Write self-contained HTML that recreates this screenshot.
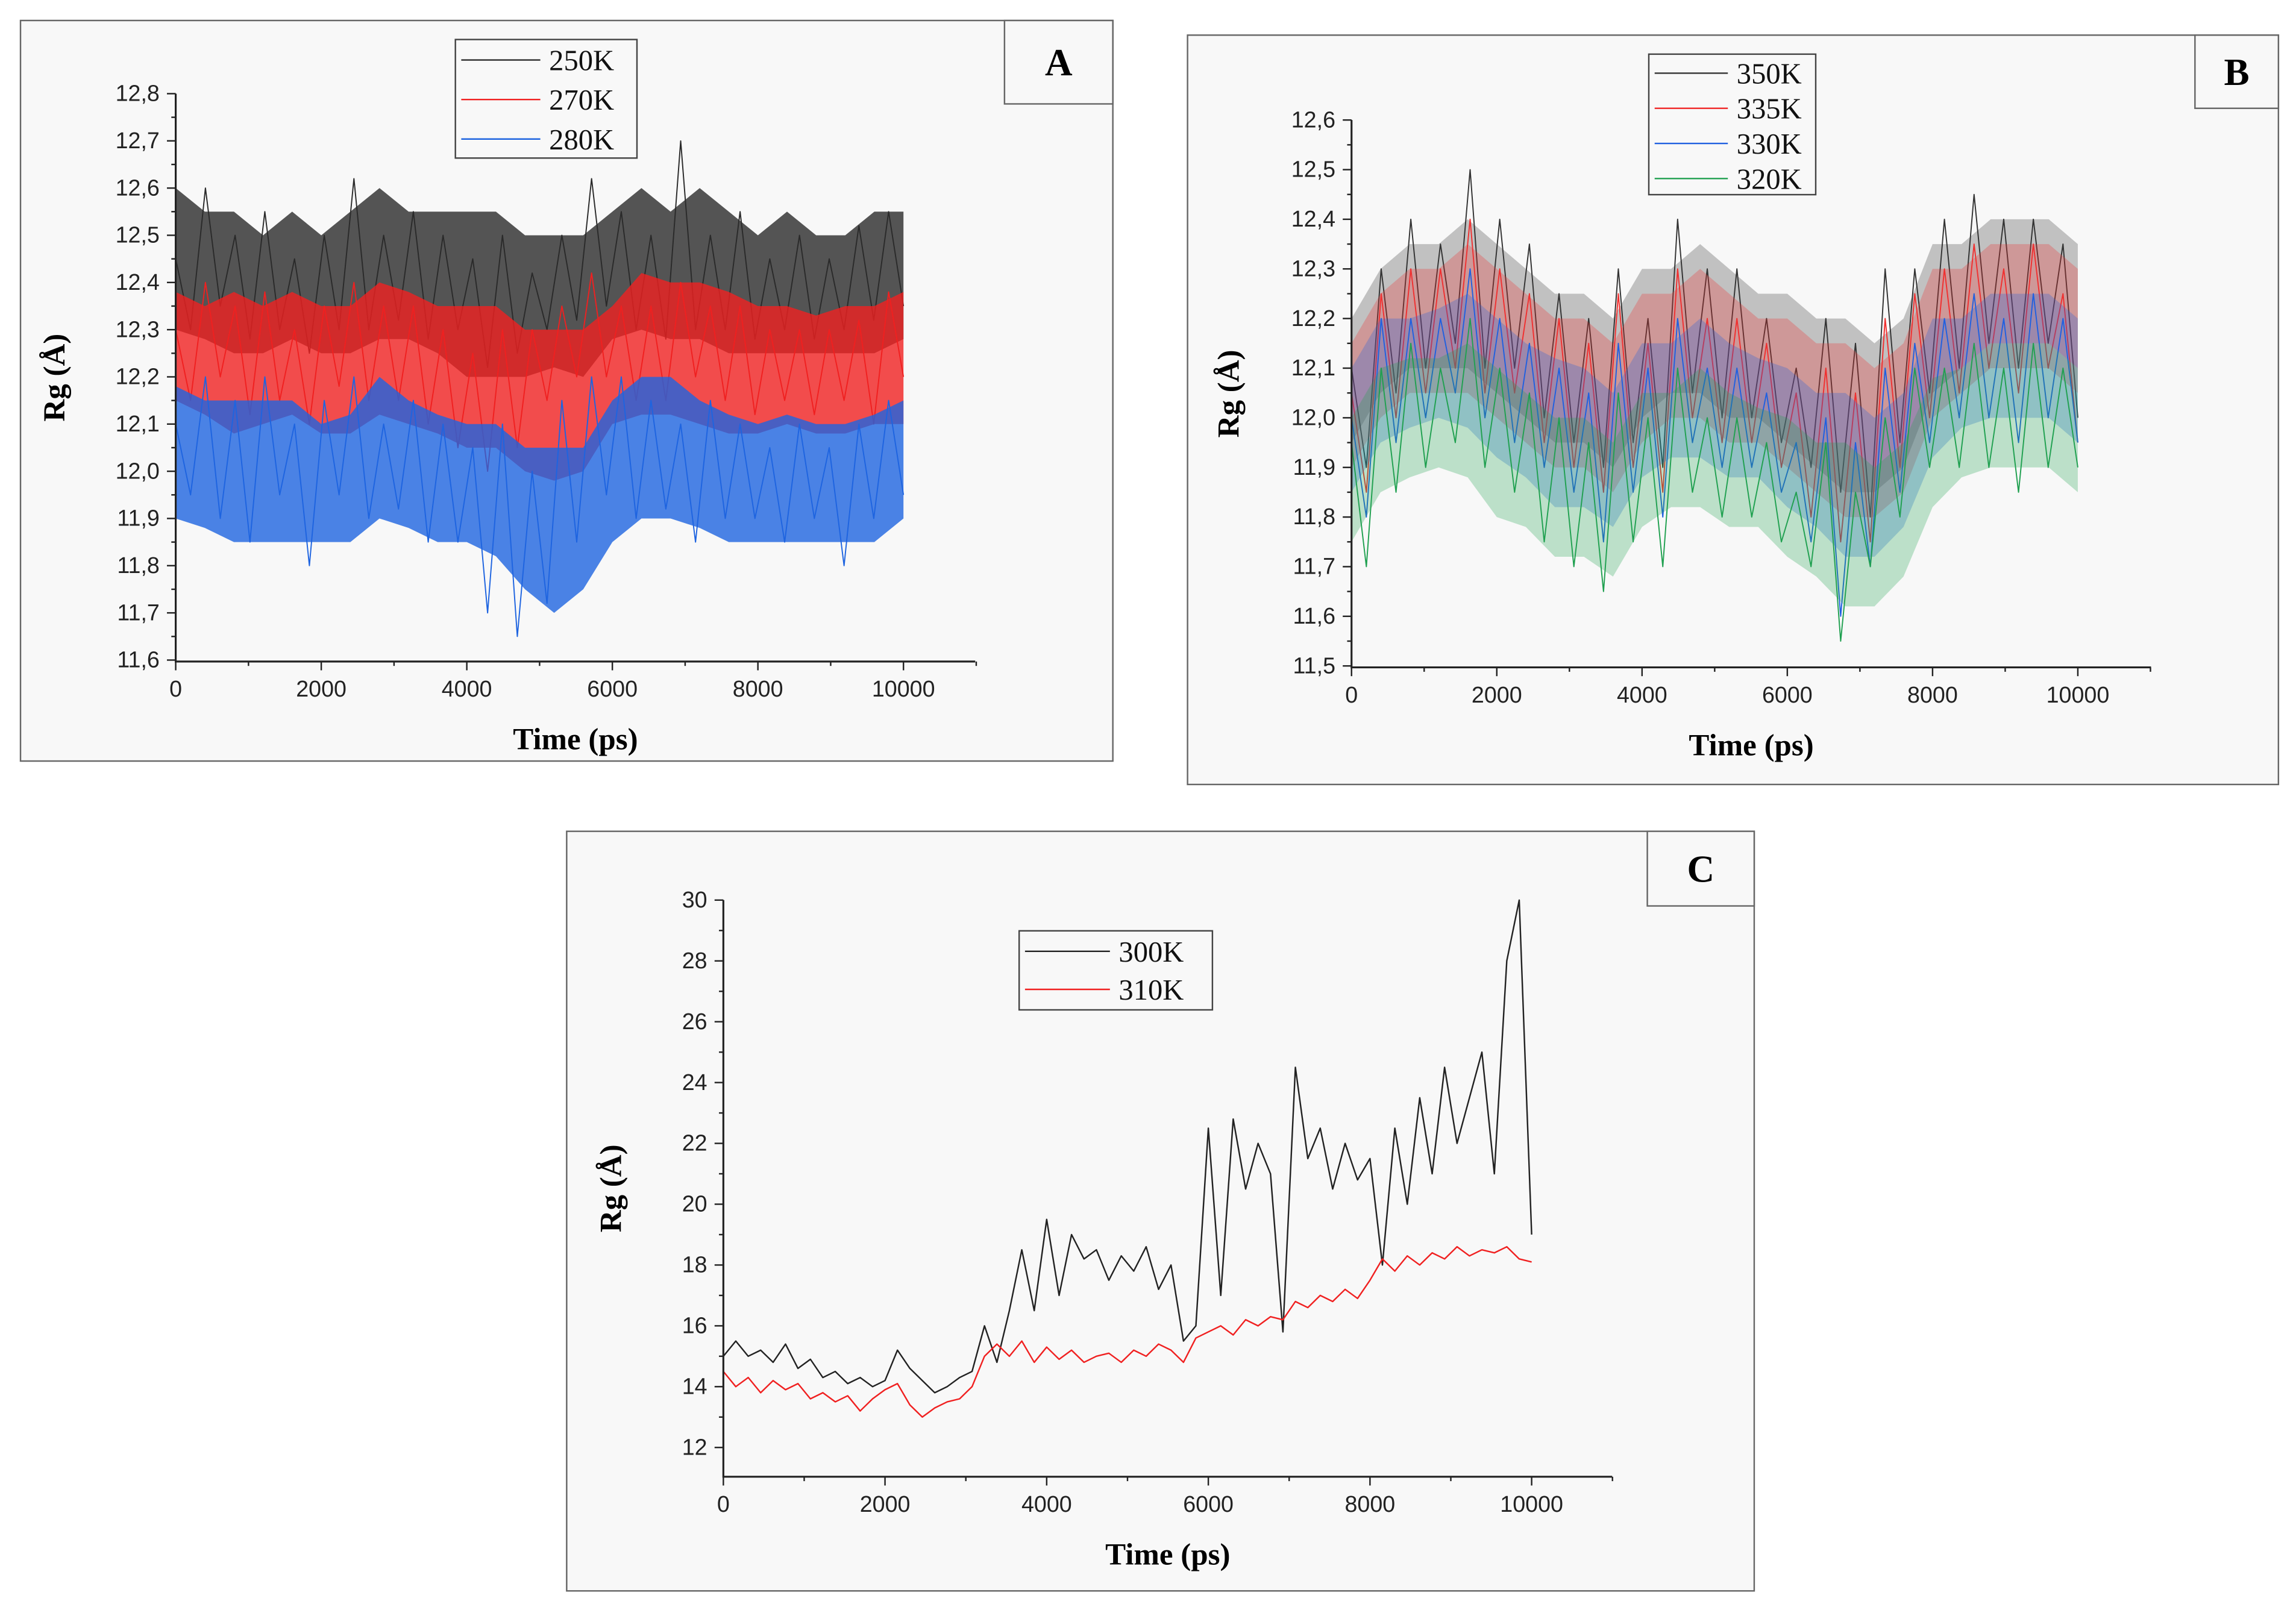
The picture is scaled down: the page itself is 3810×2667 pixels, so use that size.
<!DOCTYPE html>
<html><head><meta charset="utf-8"><style>
html,body{margin:0;padding:0;background:#fff;}
svg{display:block;}
text{font-family:"Liberation Serif",serif;}
.tk{font-family:"Liberation Sans",sans-serif;font-size:15.5px;fill:#222;}
</style></head><body>
<svg id="fig" width="3810" height="2667" viewBox="0 0 1568 1098" preserveAspectRatio="none" xmlns="http://www.w3.org/2000/svg"></svg>
<script>
const timeMax = 10000;
// Panel A spike traces (Rg in Å)
const a250 = [12.45,12.3,12.6,12.35,12.5,12.28,12.55,12.3,12.45,12.25,12.5,12.3,12.62,12.3,12.5,12.32,12.55,12.28,12.5,12.3,12.45,12.22,12.5,12.25,12.42,12.3,12.5,12.32,12.62,12.35,12.55,12.3,12.5,12.28,12.7,12.3,12.5,12.3,12.55,12.28,12.45,12.3,12.5,12.28,12.45,12.3,12.52,12.32,12.55,12.35];
const a270 = [12.3,12.15,12.4,12.2,12.35,12.12,12.38,12.15,12.3,12.1,12.35,12.18,12.4,12.15,12.35,12.15,12.35,12.1,12.3,12.05,12.25,12.0,12.3,12.05,12.3,12.15,12.35,12.2,12.42,12.2,12.35,12.15,12.35,12.15,12.4,12.2,12.35,12.15,12.35,12.12,12.3,12.15,12.3,12.12,12.3,12.15,12.32,12.1,12.38,12.2];
const a280 = [12.1,11.95,12.2,11.9,12.15,11.85,12.2,11.95,12.1,11.8,12.15,11.95,12.2,11.9,12.1,11.92,12.15,11.85,12.1,11.85,12.05,11.7,12.1,11.65,12.0,11.72,12.15,11.85,12.2,11.95,12.2,11.9,12.15,11.92,12.1,11.85,12.15,11.9,12.1,11.9,12.05,11.85,12.1,11.9,12.05,11.8,12.1,11.9,12.15,11.95];
// Panel A envelopes (dense noise band)
const a250Hi = [12.6,12.55,12.55,12.5,12.55,12.5,12.55,12.6,12.55,12.55,12.55,12.55,12.5,12.5,12.5,12.55,12.6,12.55,12.6,12.55,12.5,12.55,12.5,12.5,12.55,12.55];
const a250Lo = [12.3,12.28,12.25,12.25,12.28,12.25,12.25,12.28,12.28,12.25,12.2,12.2,12.2,12.22,12.2,12.28,12.3,12.28,12.28,12.25,12.25,12.25,12.25,12.25,12.25,12.28];
const a270Hi = [12.38,12.35,12.38,12.35,12.38,12.35,12.35,12.4,12.38,12.35,12.35,12.35,12.3,12.3,12.3,12.35,12.42,12.4,12.4,12.38,12.35,12.35,12.33,12.35,12.35,12.38];
const a270Lo = [12.15,12.12,12.08,12.1,12.12,12.08,12.08,12.12,12.1,12.08,12.05,12.05,12.0,11.98,12.0,12.1,12.12,12.12,12.1,12.08,12.08,12.1,12.08,12.08,12.1,12.1];
const a280Hi = [12.18,12.15,12.15,12.15,12.15,12.1,12.12,12.2,12.15,12.12,12.1,12.1,12.05,12.05,12.05,12.15,12.2,12.2,12.15,12.12,12.1,12.12,12.1,12.1,12.12,12.15];
const a280Lo = [11.9,11.88,11.85,11.85,11.85,11.85,11.85,11.9,11.88,11.85,11.85,11.82,11.75,11.7,11.75,11.85,11.9,11.9,11.88,11.85,11.85,11.85,11.85,11.85,11.85,11.9];
// Panel B spike traces
const b350 = [12.1,11.9,12.3,12.05,12.4,12.1,12.35,12.15,12.5,12.1,12.4,12.1,12.35,12.0,12.25,11.95,12.2,11.9,12.3,11.95,12.2,11.9,12.4,12.05,12.3,12.0,12.3,12.0,12.2,11.95,12.1,11.9,12.2,11.85,12.15,11.8,12.3,11.95,12.3,12.05,12.4,12.1,12.45,12.15,12.4,12.1,12.4,12.15,12.35,12.0];
const b335 = [12.05,11.85,12.25,12.0,12.3,12.05,12.3,12.1,12.4,12.05,12.3,12.05,12.25,11.95,12.2,11.9,12.15,11.85,12.25,11.9,12.15,11.85,12.3,12.0,12.2,11.95,12.2,11.95,12.15,11.9,12.05,11.8,12.1,11.75,12.05,11.75,12.2,11.9,12.25,12.0,12.3,12.05,12.35,12.1,12.3,12.05,12.35,12.1,12.25,11.95];
const b330 = [12.0,11.8,12.2,11.95,12.2,12.0,12.2,12.05,12.3,12.0,12.2,11.95,12.15,11.9,12.1,11.85,12.05,11.75,12.15,11.85,12.1,11.8,12.2,11.95,12.1,11.9,12.1,11.9,12.05,11.85,11.95,11.75,12.0,11.6,11.95,11.7,12.1,11.85,12.15,11.95,12.2,12.0,12.25,12.0,12.2,11.95,12.25,12.0,12.2,11.95];
const b320 = [11.95,11.7,12.1,11.85,12.15,11.9,12.1,11.95,12.2,11.9,12.1,11.85,12.05,11.75,12.0,11.7,11.95,11.65,12.05,11.75,12.0,11.7,12.1,11.85,12.0,11.8,12.0,11.8,11.95,11.75,11.85,11.7,11.95,11.55,11.85,11.7,12.0,11.8,12.1,11.9,12.1,11.9,12.15,11.9,12.1,11.85,12.15,11.9,12.1,11.9];
// Panel B envelopes
const b350Hi = [12.2,12.3,12.35,12.35,12.4,12.35,12.3,12.25,12.25,12.2,12.3,12.3,12.35,12.3,12.25,12.25,12.2,12.2,12.15,12.2,12.35,12.35,12.4,12.4,12.4,12.35];
const b350Lo = [11.95,12.05,12.1,12.1,12.1,12.05,12.0,11.95,11.95,11.9,12.0,12.05,12.05,12.0,12.0,11.95,11.9,11.85,11.85,11.9,12.05,12.1,12.15,12.15,12.15,12.1];
const b335Hi = [12.15,12.25,12.3,12.3,12.35,12.3,12.25,12.2,12.2,12.15,12.25,12.25,12.3,12.25,12.2,12.2,12.15,12.15,12.1,12.15,12.3,12.3,12.35,12.35,12.35,12.3];
const b335Lo = [11.9,12.0,12.05,12.05,12.05,12.0,11.95,11.9,11.9,11.85,11.95,12.0,12.0,11.95,11.95,11.9,11.85,11.8,11.8,11.85,12.0,12.05,12.1,12.1,12.1,12.05];
const b330Hi = [12.1,12.2,12.2,12.22,12.25,12.2,12.15,12.12,12.1,12.05,12.15,12.15,12.2,12.15,12.12,12.1,12.05,12.05,12.0,12.05,12.2,12.2,12.25,12.25,12.25,12.2];
const b330Lo = [11.85,11.95,11.98,12.0,11.98,11.92,11.88,11.82,11.82,11.78,11.88,11.92,11.92,11.88,11.88,11.82,11.78,11.72,11.72,11.78,11.92,11.98,12.0,12.0,12.0,11.95];
const b320Hi = [12.0,12.1,12.12,12.12,12.15,12.1,12.05,12.0,12.0,11.95,12.05,12.05,12.1,12.05,12.02,12.0,11.95,11.95,11.9,11.95,12.08,12.1,12.15,12.15,12.15,12.1];
const b320Lo = [11.75,11.85,11.88,11.9,11.88,11.8,11.78,11.72,11.72,11.68,11.78,11.82,11.82,11.78,11.78,11.72,11.68,11.62,11.62,11.68,11.82,11.88,11.9,11.9,11.9,11.85];
// Panel C data
const c300 = [15.0,15.5,15.0,15.2,14.8,15.4,14.6,14.9,14.3,14.5,14.1,14.3,14.0,14.2,15.2,14.6,14.2,13.8,14.0,14.3,14.5,16.0,14.8,16.5,18.5,16.5,19.5,17.0,19.0,18.2,18.5,17.5,18.3,17.8,18.6,17.2,18.0,15.5,16.0,22.5,17.0,22.8,20.5,22.0,21.0,15.8,24.5,21.5,22.5,20.5,22.0,20.8,21.5,18.0,22.5,20.0,23.5,21.0,24.5,22.0,23.5,25.0,21.0,28.0,30.0,19.0];
const c310 = [14.5,14.0,14.3,13.8,14.2,13.9,14.1,13.6,13.8,13.5,13.7,13.2,13.6,13.9,14.1,13.4,13.0,13.3,13.5,13.6,14.0,15.0,15.4,15.0,15.5,14.8,15.3,14.9,15.2,14.8,15.0,15.1,14.8,15.2,15.0,15.4,15.2,14.8,15.6,15.8,16.0,15.7,16.2,16.0,16.3,16.2,16.8,16.6,17.0,16.8,17.2,16.9,17.5,18.2,17.8,18.3,18.0,18.4,18.2,18.6,18.3,18.5,18.4,18.6,18.2,18.1];
// Ticks
const xTicks = [0,2000,4000,6000,8000,10000];
const aYTicks = [11.6,11.7,11.8,11.9,12.0,12.1,12.2,12.3,12.4,12.5,12.6,12.7,12.8];
const bYTicks = [11.5,11.6,11.7,11.8,11.9,12.0,12.1,12.2,12.3,12.4,12.5,12.6];
const cYTicks = [12,14,16,18,20,22,24,26,28,30];

const NS = "http://www.w3.org/2000/svg";
const svg = document.getElementById('fig');
function mk(tag, attrs, parent){const e=document.createElementNS(NS,tag);for(const k in attrs)e.setAttribute(k,attrs[k]);(parent||svg).appendChild(e);return e;}

function panel(p){
  const g = mk('g',{});
  
  
  mk('rect',{x:p.box[0],y:p.box[1],width:p.box[2]-p.box[0],height:p.box[3]-p.box[1],fill:'#f8f8f8',stroke:'#666','stroke-width':1},g);
  const sx = v => p.x0 + (v/timeMax)*(p.x1-p.x0);
  const sy = v => p.yB + (v-p.ymin)/(p.ymax-p.ymin)*(p.yT-p.yB);
  p.series.forEach(s=>{
    if(s.hi){
      const n = s.hi.length;
      const up = s.hi.map((v,i)=>sx(i*timeMax/(n-1)).toFixed(2)+','+sy(v).toFixed(2));
      const dn = s.lo.map((v,i)=>sx(i*timeMax/(n-1)).toFixed(2)+','+sy(v).toFixed(2)).reverse();
      const b = mk('polygon',{points:up.concat(dn).join(' '),fill:s.color,'fill-opacity':s.op||0.8,stroke:'none'},g);
      
      
    }
    const pts = s.data.map((v,i)=>sx(i*timeMax/(s.data.length-1)).toFixed(2)+','+sy(v).toFixed(2)).join(' ');
    const l = mk('polyline',{points:pts,fill:'none',stroke:s.color,'stroke-width':s.w||0.8,'stroke-linejoin':'round'},g);
    
    
  });
  const ax = mk('path',{d:`M${p.x0},${p.yT} V${p.axB} H${p.axR}`,fill:'none',stroke:'#222','stroke-width':1.3},g);
  
  
  xTicks.forEach(t=>{
    mk('line',{x1:sx(t),x2:sx(t),y1:p.axB,y2:p.axB+6,stroke:'#222','stroke-width':1},g);
    mk('line',{x1:sx(t+1000),x2:sx(t+1000),y1:p.axB,y2:p.axB+3,stroke:'#222','stroke-width':1},g);
    const tx = mk('text',{x:sx(t),y:p.axB+24,'text-anchor':'middle',class:'tk'},g);
    tx.textContent = t;
    
    
  });
  p.yTicks.forEach((t,i)=>{
    mk('line',{x1:p.x0-6,x2:p.x0,y1:sy(t),y2:sy(t),stroke:'#222','stroke-width':1},g);
    if(i<p.yTicks.length-1){const m=(t+p.yTicks[i+1])/2;mk('line',{x1:p.x0-3,x2:p.x0,y1:sy(m),y2:sy(m),stroke:'#222','stroke-width':1},g);}
    const ty = mk('text',{x:p.x0-11,y:sy(t)+5,'text-anchor':'end',class:'tk'},g);
    ty.textContent = p.dec ? t.toFixed(1).replace('.',',') : t;
    
    
  });
  const xt = mk('text',{x:(p.x0+p.axR)/2,y:p.axB+60,'text-anchor':'middle','font-size':21,'font-weight':'bold'},g);
  xt.textContent = 'Time (ps)';
  
  
  const yt = mk('text',{x:0,y:0,'text-anchor':'middle','font-size':21,'font-weight':'bold',transform:`translate(${p.ytx},${(p.yT+p.axB)/2}) rotate(-90)`},g);
  yt.textContent = 'Rg (Å)';
  
  
  const L = p.leg;
  const lg = mk('g',{},g);
  
  
  mk('rect',{x:L.x,y:L.y,width:L.w,height:L.h,fill:'#f8f8f8',stroke:'#444','stroke-width':1},lg);
  p.series.forEach((s,i)=>{
    const yy = L.y + L.first + i*L.step;
    mk('line',{x1:L.x+4,x2:L.x+L.lw,y1:yy,y2:yy,stroke:s.color,'stroke-width':1},lg);
    const t = mk('text',{x:L.x+L.lw+6,y:yy+7,'font-size':20,fill:'#111'},lg);
    t.textContent = s.label;
    
    
  });
  const lb = p.lbox;
  mk('rect',{x:lb[0],y:lb[1],width:lb[2]-lb[0],height:lb[3]-lb[1],fill:'#f8f8f8',stroke:'#666','stroke-width':1},g);
  const lt = mk('text',{x:(lb[0]+lb[2])/2,y:(lb[1]+lb[3])/2+9,'text-anchor':'middle','font-size':26,'font-weight':'bold'},g);
  lt.textContent = p.id;
  
  
}

panel({id:'A',box:[14,14,760,520],lbox:[686,14,760,71],x0:120,x1:617,axR:666,yT:64,yB:451,axB:452,ymin:11.6,ymax:12.8,yTicks:aYTicks,dec:true,ytx:44,
  series:[{label:'250K',color:'#2a2a2a',data:a250,hi:a250Hi,lo:a250Lo},{label:'270K',color:'#f02020',data:a270,hi:a270Hi,lo:a270Lo},{label:'280K',color:'#1e64e0',data:a280,hi:a280Hi,lo:a280Lo}],
  leg:{x:311,y:27,w:124,h:81,first:14,step:27,lw:58}});
panel({id:'B',box:[811,24,1556,536],lbox:[1499,24,1556,74],x0:923,x1:1419,axR:1469,yT:82,yB:455,axB:456,ymin:11.5,ymax:12.6,yTicks:bYTicks,dec:true,ytx:846,
  series:[{label:'350K',color:'#333',data:b350,hi:b350Hi,lo:b350Lo,op:0.28},{label:'335K',color:'#f03030',data:b335,hi:b335Hi,lo:b335Lo,op:0.28},{label:'330K',color:'#2060e0',data:b330,hi:b330Hi,lo:b330Lo,op:0.28},{label:'320K',color:'#20a050',data:b320,hi:b320Hi,lo:b320Lo,op:0.28}],
  leg:{x:1126,y:37,w:114,h:96,first:13,step:24,lw:54}});
panel({id:'C',box:[387,568,1198,1087],lbox:[1125,568,1198,619],x0:494,x1:1046,axR:1101,yT:615,yB:989,axB:1009,ymin:12,ymax:30,yTicks:cYTicks,dec:false,ytx:424,
  series:[{label:'300K',color:'#222',data:c300,w:1},{label:'310K',color:'#f02020',data:c310,w:1}],
  leg:{x:696,y:636,w:132,h:54,first:14,step:26,lw:62}});
</script>
</body></html>
